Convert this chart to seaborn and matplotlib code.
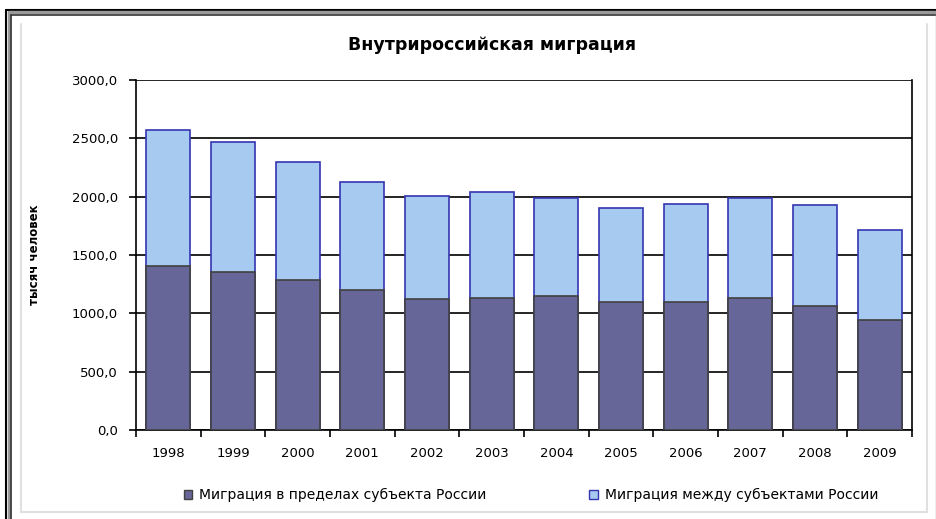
import matplotlib
matplotlib.use("Agg")
import matplotlib.pyplot as plt
import seaborn as sns
import pandas as pd
from matplotlib.patches import Patch
from matplotlib.lines import Line2D
from matplotlib.ticker import FuncFormatter, MultipleLocator

years = ["1998", "1999", "2000", "2001", "2002", "2003",
         "2004", "2005", "2006", "2007", "2008", "2009"]
within_subject = [1408, 1351, 1283, 1197, 1126, 1128, 1149, 1094, 1094, 1129, 1060, 943]
between_subjects = [1163, 1118, 1014, 931, 877, 915, 842, 809, 840, 862, 871, 768]

title = "Внутрироссийская миграция"
ylabel = "тысяч человек"
legend_labels = ["Миграция в пределах субъекта России", "Миграция между субъектами России"]

df = pd.DataFrame({"year": years, "within": within_subject, "between": between_subjects})
df["total"] = df["within"] + df["between"]

sns.set_style("white")
plt.rcParams["font.family"] = ["DejaVu Sans"]
plt.rcParams.update({"text.color": "black", "axes.labelcolor": "black",
                     "xtick.color": "black", "ytick.color": "black"})

fig = plt.figure(figsize=(9.37, 5.19), dpi=100)
ax = fig.add_axes([136/937, 1-430/519, (912-136)/937, (430-80)/519])

dark = "#666699"
light = "#A6CAF0"
sns.barplot(data=df, x="year", y="total", color=light, edgecolor="#3535B0",
            linewidth=1.2, width=0.68, saturation=1, ax=ax, zorder=3)
sns.barplot(data=df, x="year", y="within", color=dark, edgecolor="#404040",
            linewidth=1.2, width=0.68, saturation=1, ax=ax, zorder=4)

ax.set_ylim(0, 3000)
ax.set_xlim(-0.5, len(years) - 0.5)
ax.yaxis.set_major_locator(MultipleLocator(500))
ax.yaxis.set_major_formatter(FuncFormatter(lambda v, p: f"{v:.1f}".replace(".", ",")))
ax.grid(axis="y", color="black", linewidth=1.2, zorder=0)
ax.set_axisbelow(True)
for s in ax.spines.values():
    s.set_visible(True)
    s.set_color("black")
    s.set_linewidth(1.2)
ax.spines["top"].set_visible(False)

ax.tick_params(axis="y", direction="out", length=5, width=1.2, left=True,
               labelsize=9.5, pad=8, colors="black")
ax.tick_params(axis="x", length=0, labelsize=9.5, pad=12, colors="black")
ax.set_xticks([i + 0.5 for i in range(-1, len(years))], minor=True)
ax.tick_params(axis="x", which="minor", direction="out", length=5, width=1.2, bottom=True)
ax.set_xlabel("")
ax.set_ylabel(ylabel, fontsize=8.5, fontweight="bold", color="black")
ax.yaxis.set_label_coords(-(136 - 41) / 776, 0.5)
fig.text(492 / 937, 1 - 45/519, title, ha="center", va="center",
         fontsize=12.5, fontweight="bold", color="black")

handles = [Patch(facecolor=dark, edgecolor="#404040", linewidth=1),
           Patch(facecolor=light, edgecolor="#3535B0", linewidth=1)]
fig.legend(handles, legend_labels, loc="center", bbox_to_anchor=(531/937, 1 - 495/519),
           ncol=2, frameon=False, fontsize=10, handlelength=0.6, handleheight=0.6,
           handletextpad=0.5, columnspacing=7.4, labelcolor="black")

def fl(x0, y0, x1, y1, c, lw):
    fig.add_artist(Line2D([x0/937, x1/937], [1-y0/519, 1-y1/519], color=c,
                          linewidth=lw, transform=fig.transFigure))

fl(6.5, 9.5, 6.5, 519, "black", 1.5)
fl(9, 12, 9, 519, "#999999", 2.5)
fl(11.5, 14.5, 11.5, 519, "#333333", 1.2)
fl(6, 9.5, 937, 9.5, "black", 1.5)
fl(9, 12, 937, 12, "#999999", 2.5)
fl(11, 14.5, 937, 14.5, "#333333", 1.2)
fl(936, 14, 936, 519, "#AAAAAA", 1)
fl(21.5, 24, 21.5, 511.5, "#E0E0E0", 1.5)
fl(927, 24, 927, 511.5, "#E0E0E0", 1.5)
fl(21.5, 511.5, 927, 511.5, "#E0E0E0", 1.5)

fig.savefig("out.png", dpi=100)
